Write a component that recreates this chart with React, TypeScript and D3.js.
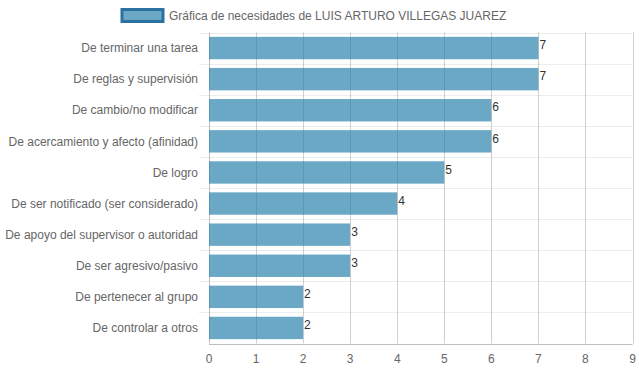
import * as d3 from 'd3'
import React, { useRef, useEffect } from 'react'

const categories = [
  'De terminar una tarea',
  'De reglas y supervisión',
  'De cambio/no modificar',
  'De acercamiento y afecto (afinidad)',
  'De logro',
  'De ser notificado (ser considerado)',
  'De apoyo del supervisor o autoridad',
  'De ser agresivo/pasivo',
  'De pertenecer al grupo',
  'De controlar a otros',
]
const values = [7, 7, 6, 6, 5, 4, 3, 3, 2, 2]
const xTicks = [0, 1, 2, 3, 4, 5, 6, 7, 8, 9]
const legendLabel = 'Gráfica de necesidades de LUIS ARTURO VILLEGAS JUAREZ'

const W = 639
const H = 372
const FONT = '"Liberation Sans", Arial, Helvetica, sans-serif'

const App = () => {
  const myRef = useRef<SVGSVGElement>(null)

  useEffect(() => {
    const margin = { top: 32.5, right: 6.5, bottom: 28.5, left: 209 }
    const svg = d3.select(myRef.current)
    svg.selectAll('*').remove()

    const x = d3.scaleLinear()
      .domain([0, 9])
      .range([margin.left, W - margin.right])

    const y = d3.scaleBand()
      .domain(categories)
      .range([margin.top, H - margin.bottom])
      .paddingInner(0)
      .paddingOuter(0)

    const bw = y.bandwidth()
    const barH = bw * 0.72

    // horizontal grid lines between categories (with small ticks to the left)
    const edges = categories.map((c) => y(c) as number)
    svg.append('g')
      .selectAll('line')
      .data(edges)
      .enter().append('line')
      .attr('x1', margin.left - 10)
      .attr('x2', W - margin.right)
      .attr('y1', (d) => Math.round(d) + 0.5)
      .attr('y2', (d) => Math.round(d) + 0.5)
      .attr('stroke', 'rgba(0,0,0,0.07)')
      .attr('stroke-width', 1)

    // vertical grid lines
    svg.append('g')
      .selectAll('line')
      .data(xTicks)
      .enter().append('line')
      .attr('x1', (d) => Math.round(x(d)) + 0.5)
      .attr('x2', (d) => Math.round(x(d)) + 0.5)
      .attr('y1', margin.top)
      .attr('y2', H - margin.bottom)
      .attr('stroke', (d) => (d === 0 ? 'rgba(0,0,0,0.25)' : 'rgba(0,0,0,0.18)'))
      .attr('stroke-width', 1)

    // x axis line
    svg.append('line')
      .attr('x1', margin.left)
      .attr('x2', W - margin.right)
      .attr('y1', Math.round(H - margin.bottom) + 0.5)
      .attr('y2', Math.round(H - margin.bottom) + 0.5)
      .attr('stroke', 'rgba(0,0,0,0.25)')

    // bars
    svg.append('g')
      .selectAll('rect')
      .data(values)
      .enter().append('rect')
      .attr('x', x(0))
      .attr('y', (d, i) => (y(categories[i]) as number) + (bw - barH) / 2)
      .attr('width', (d) => x(d) - x(0))
      .attr('height', barH)
      .attr('fill', 'rgba(35,125,170,0.67)')

    // value labels
    svg.append('g')
      .selectAll('text')
      .data(values)
      .enter().append('text')
      .attr('x', (d) => x(d) + 1)
      .attr('y', (d, i) => (y(categories[i]) as number) + bw / 2 - 3)
      .attr('dy', '0.35em')
      .attr('font-family', FONT)
      .attr('font-size', 12)
      .attr('fill', '#333')
      .text((d) => d)

    // y labels
    svg.append('g')
      .selectAll('text')
      .data(categories)
      .enter().append('text')
      .attr('x', margin.left - 11)
      .attr('y', (d) => (y(d) as number) + bw / 2)
      .attr('dy', '0.35em')
      .attr('text-anchor', 'end')
      .attr('font-family', FONT)
      .attr('font-size', 12)
      .attr('fill', '#666')
      .text((d) => d)

    // x tick labels
    svg.append('g')
      .selectAll('text')
      .data(xTicks)
      .enter().append('text')
      .attr('x', (d) => x(d))
      .attr('y', H - margin.bottom + 15)
      .attr('dy', '0.35em')
      .attr('text-anchor', 'middle')
      .attr('font-family', FONT)
      .attr('font-size', 12)
      .attr('fill', '#666')
      .text((d) => d)

    // legend
    const legend = svg.append('g')
    legend.append('rect')
      .attr('x', 122)
      .attr('y', 9.5)
      .attr('width', 41)
      .attr('height', 12)
      .attr('fill', 'rgba(35,125,170,0.67)')
      .attr('stroke', '#2c72a0')
      .attr('stroke-width', 3)
    legend.append('text')
      .attr('x', 169)
      .attr('y', 15.5)
      .attr('dy', '0.35em')
      .attr('font-family', FONT)
      .attr('font-size', 12)
      .attr('fill', '#666')
      .text(legendLabel)
  }, [])

  return (
    <svg ref={myRef} width={W} height={H}
      style={{ position: 'absolute', left: 0, top: 0, display: 'block', background: '#fff' }} />
  )
}

export default App
